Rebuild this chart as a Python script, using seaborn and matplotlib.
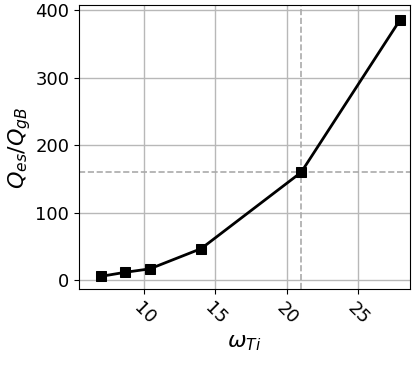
import matplotlib
matplotlib.use("Agg")
import matplotlib.pyplot as plt
import seaborn as sns
import pandas as pd

# data
omega_ti = [7.0, 8.7, 10.4, 14.0, 21.0, 27.9]
q_ratio = [6, 12, 17, 47, 160, 385]
x_mark = 21.0
y_mark = 160

df = pd.DataFrame({'omega': omega_ti, 'q': q_ratio})

plt.rcParams['font.size'] = 13
fig, ax = plt.subplots(figsize=(4.16, 3.66), dpi=100)
ax.grid(True, color='#b8b8b8', linewidth=1)
ax.set_axisbelow(True)
ax.axvline(x_mark, color='#aaaaaa', linestyle='--', linewidth=1.2, zorder=1)
ax.axhline(y_mark, color='#aaaaaa', linestyle='--', linewidth=1.2, zorder=1)
sns.lineplot(data=df, x='omega', y='q', ax=ax, color='black', linewidth=2,
             marker='s', markersize=7.5, markeredgecolor='black', zorder=3)
ax.set_xlabel(r'$\omega_{Ti}$', fontsize=16)
ax.set_ylabel(r'$Q_{es}/Q_{gB}$', fontsize=16, labelpad=2)
ax.set_xticks([10, 15, 20, 25])
ax.set_yticks([0, 100, 200, 300, 400])
ax.set_xlim(5.45, 28.6)
ax.set_ylim(-13, 407)
plt.setp(ax.get_xticklabels(), rotation=-45)
ax.tick_params(labelsize=13)
fig.subplots_adjust(left=0.19, right=0.985, top=0.985, bottom=0.21)
fig.savefig('out.png')
